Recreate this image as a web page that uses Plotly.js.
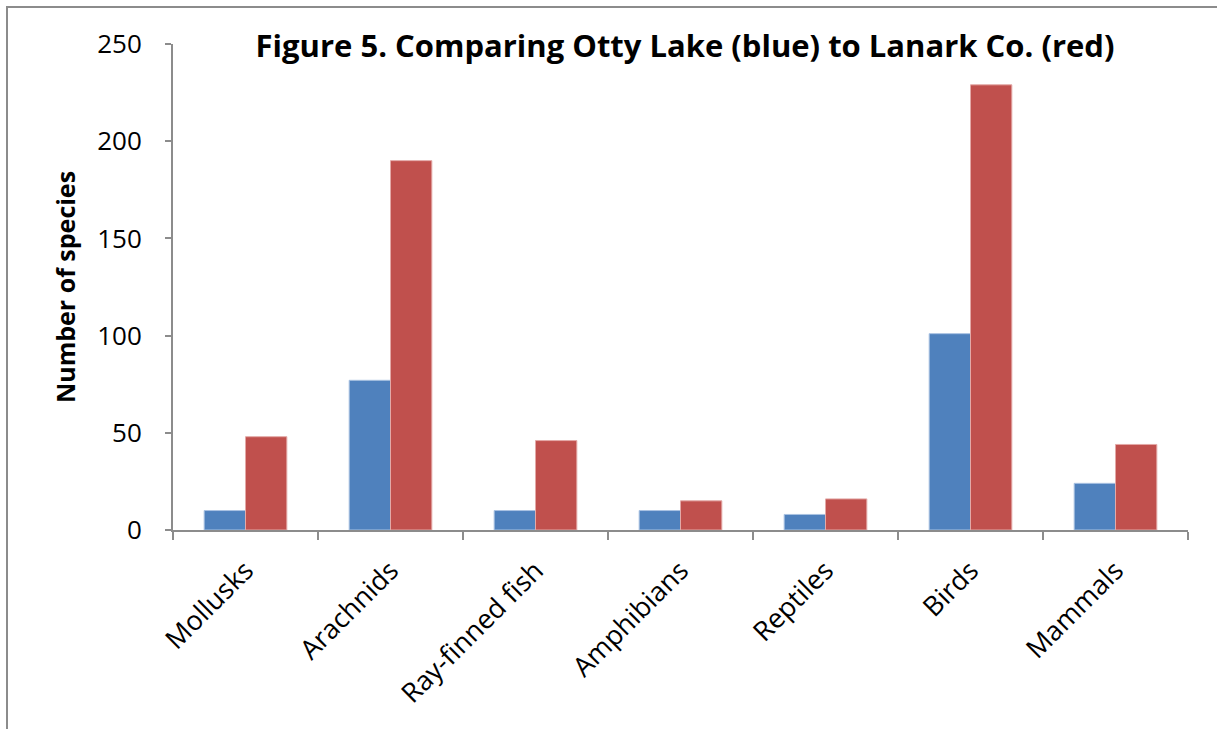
<!DOCTYPE html>
<html>
<head>
<meta charset="utf-8">
<script src="https://cdn.plot.ly/plotly-3.0.1.min.js"></script>
<style>
  html, body { margin: 0; padding: 0; background: #fff; }
  #chart { width: 1217px; height: 729px; }
</style>
</head>
<body>
<div id="chart"></div>
<script>
// Species groups shown along the x axis
const categories = ["Mollusks", "Arachnids", "Ray-finned fish", "Amphibians", "Reptiles", "Birds", "Mammals"];
// Number of species recorded at Otty Lake
const ottyLake = [10, 77, 10, 10, 8, 101, 24];
// Number of species recorded in Lanark County
const lanarkCo = [48, 190, 46, 15, 16, 229, 44];
// Y axis ticks
const yTicks = [0, 50, 100, 150, 200, 250];

const FONT = "Open Sans, Noto Sans, sans-serif";

const traces = [
  {
    type: "bar",
    name: "Otty Lake",
    x: categories,
    y: ottyLake,
    marker: { color: "#4F81BD", line: { color: "#A9C2E2", width: 1 } },
    hoverinfo: "x+y"
  },
  {
    type: "bar",
    name: "Lanark Co.",
    x: categories,
    y: lanarkCo,
    marker: { color: "#C0504D", line: { color: "#E3A9A7", width: 1 } },
    hoverinfo: "x+y"
  }
];

const L = 173, R = 29, T = 44, B = 199;
const W = 1217, H = 729;
const pw = W - L - R, ph = H - T - B;
const px = v => (v - L) / pw;
const py = v => (H - B - v) / ph;

const layout = {
  width: W,
  height: H,
  margin: { l: L, r: R, t: T, b: B, pad: 0 },
  paper_bgcolor: "#ffffff",
  plot_bgcolor: "#ffffff",
  showlegend: false,
  barmode: "group",
  bargap: 0.43,
  bargroupgap: 0,
  font: { family: FONT, color: "#000000" },
  title: {
    text: "<b>Figure 5. Comparing Otty Lake (blue) to Lanark Co. (red)</b>",
    font: { family: FONT, size: 31, color: "#000000" },
    xref: "paper",
    x: px(685),
    xanchor: "center",
    yref: "container",
    y: 1 - 46 / H,
    yanchor: "middle"
  },
  xaxis: {
    type: "category",
    showline: true,
    linecolor: "#8c8c8c",
    linewidth: 2,
    ticks: "outside",
    tickson: "boundaries",
    ticklen: 8,
    tickwidth: 2,
    tickcolor: "#8c8c8c",
    tickangle: -45,
    ticklabelstandoff: 12,
    tickfont: { family: FONT, size: 27, color: "#000000" },
    showgrid: false,
    zeroline: false,
    fixedrange: true
  },
  yaxis: {
    range: [0, 250],
    tickvals: yTicks,
    ticktext: yTicks.map(String),
    showline: true,
    linecolor: "#8c8c8c",
    linewidth: 2,
    ticks: "outside",
    ticklen: 6,
    tickwidth: 2,
    tickcolor: "#8c8c8c",
    ticklabelstandoff: 18,
    tickfont: { family: FONT, size: 26, color: "#000000" },
    showgrid: false,
    zeroline: false,
    fixedrange: true,
    title: {
      text: "<b>Number of species</b>",
      font: { family: FONT, size: 25, color: "#000000" },
      standoff: 14
    }
  },
  shapes: [
    {
      type: "rect",
      xref: "paper",
      yref: "paper",
      x0: px(7), x1: px(W + 10),
      y0: py(H + 10), y1: py(7),
      line: { color: "#8c8c8c", width: 2 },
      fillcolor: "rgba(0,0,0,0)",
      layer: "below"
    }
  ]
};

Plotly.newPlot("chart", traces, layout, { displayModeBar: false, staticPlot: true });
</script>
</body>
</html>
